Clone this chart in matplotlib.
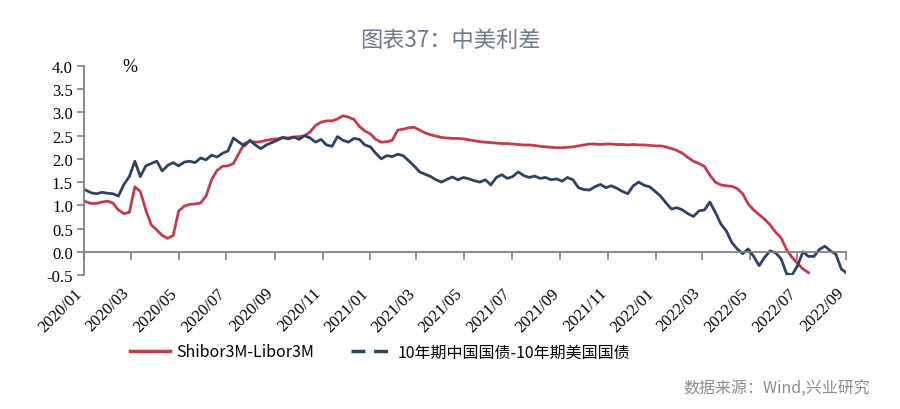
import pandas as pd
import matplotlib.pyplot as plt
import matplotlib.dates as mdates
from matplotlib.lines import Line2D

# weekly observations, first Friday of 2020 onward
dates = pd.date_range("2020-01-03", periods=140, freq="7D")

cn_us_10y = [
    1.33, 1.27, 1.25, 1.28, 1.26, 1.25, 1.20, 1.45, 1.62, 1.95,
    1.62, 1.85, 1.90, 1.95, 1.74, 1.86, 1.92, 1.85, 1.93, 1.95,
    1.92, 2.02, 1.98, 2.08, 2.04, 2.12, 2.17, 2.45, 2.36, 2.28,
    2.40, 2.30, 2.22, 2.30, 2.35, 2.40, 2.46, 2.43, 2.47, 2.42,
    2.50, 2.45, 2.36, 2.42, 2.30, 2.27, 2.48, 2.40, 2.36, 2.44,
    2.42, 2.30, 2.26, 2.12, 2.00, 2.07, 2.05, 2.10, 2.07, 1.96,
    1.85, 1.72, 1.67, 1.62, 1.55, 1.50, 1.56, 1.61, 1.55, 1.60,
    1.57, 1.53, 1.50, 1.55, 1.44, 1.60, 1.66, 1.58, 1.62, 1.72,
    1.64, 1.60, 1.63, 1.58, 1.60, 1.55, 1.57, 1.52, 1.60, 1.55,
    1.38, 1.34, 1.33, 1.40, 1.45, 1.38, 1.42, 1.37, 1.30, 1.25,
    1.42, 1.50, 1.43, 1.40, 1.30, 1.20, 1.05, 0.92, 0.95, 0.90,
    0.82, 0.76, 0.88, 0.90, 1.07, 0.85, 0.60, 0.45, 0.20, 0.06,
    -0.04, 0.06, -0.10, -0.30, -0.12, 0.02, -0.02, -0.15, -0.47, -0.50,
    -0.30, 0.00, -0.10, -0.10, 0.05, 0.12, 0.02, -0.05, -0.37, -0.46,
]

shibor_libor = [
    1.08, 1.04, 1.04, 1.07, 1.09, 1.05, 0.90, 0.82, 0.85, 1.40,
    1.30, 0.90, 0.58, 0.47, 0.35, 0.29, 0.35, 0.88, 0.98, 1.02,
    1.03, 1.05, 1.20, 1.55, 1.75, 1.84, 1.85, 1.90, 2.12, 2.33,
    2.38, 2.36, 2.37, 2.40, 2.42, 2.43, 2.46, 2.45, 2.47, 2.48,
    2.50, 2.58, 2.72, 2.79, 2.82, 2.82, 2.86, 2.93, 2.90, 2.85,
    2.70, 2.60, 2.54, 2.42, 2.36, 2.37, 2.40, 2.62, 2.64, 2.67,
    2.68, 2.62, 2.56, 2.52, 2.49, 2.46, 2.45, 2.44, 2.44, 2.43,
    2.41, 2.39, 2.37, 2.36, 2.35, 2.34, 2.33, 2.33, 2.32, 2.31,
    2.30, 2.30, 2.29, 2.27, 2.26, 2.25, 2.24, 2.24, 2.25, 2.26,
    2.28, 2.30, 2.32, 2.32, 2.31, 2.32, 2.32, 2.31, 2.31, 2.30,
    2.31, 2.30, 2.30, 2.29, 2.28, 2.28, 2.26, 2.22, 2.18, 2.12,
    2.03, 1.95, 1.90, 1.84, 1.65, 1.50, 1.44, 1.42, 1.41, 1.36,
    1.25, 1.03, 0.90, 0.80, 0.70, 0.58, 0.42, 0.30, 0.05, -0.12,
    -0.25, -0.37, -0.45,
]

tick_dates = pd.date_range("2020-01-01", "2022-09-01", freq="2MS")
tick_labels = [d.strftime("%Y/%m") for d in tick_dates]

RED = "#c23b4f"
NAVY = "#2f4262"
AXIS_GRAY = "#808080"
CJK = ["Noto Sans CJK SC", "DejaVu Sans"]
SERIF = "Liberation Serif"

fig = plt.figure(figsize=(9, 4.1), dpi=100)
ax = fig.add_axes([84 / 900, 1 - 276 / 410, (846 - 84) / 900, (276 - 67) / 410])

ax.plot(dates[:len(shibor_libor)], shibor_libor, color=RED, linewidth=2.0)
ax.plot(dates, cn_us_10y, color=NAVY, linewidth=2.0)

ax.set_xlim(pd.Timestamp("2020-01-01"), pd.Timestamp("2022-09-01"))
ax.set_ylim(-0.5, 4.0)
ax.set_yticks([-0.5, 0, 0.5, 1, 1.5, 2, 2.5, 3, 3.5, 4])
ax.set_yticklabels([f"{v:.1f}" for v in ax.get_yticks()], family=SERIF, fontsize=12)

ax.set_xticks(tick_dates)
ax.tick_params(axis="x", labelbottom=False, length=6, color=AXIS_GRAY, width=1.2)
ax.tick_params(axis="y", length=5, color=AXIS_GRAY, width=1.2, pad=3)

for side in ["top", "right"]:
    ax.spines[side].set_visible(False)
ax.spines["bottom"].set_position(("data", 0))
ax.spines["left"].set_color(AXIS_GRAY)
ax.spines["bottom"].set_color(AXIS_GRAY)
ax.spines["left"].set_linewidth(1.3)
ax.spines["bottom"].set_linewidth(1.3)

# rotated date labels sit under the plot area, not under the zero line
for d, lab in zip(tick_dates, tick_labels):
    ax.annotate(lab, xy=(mdates.date2num(d), 0), xycoords=("data", "axes fraction"),
                xytext=(-7, -7), textcoords="offset points",
                ha="right", va="top", rotation=45, rotation_mode="anchor",
                family=SERIF, fontsize=12)

ax.text(0.05, 1.0, "%", transform=ax.transAxes, family=SERIF, fontsize=13,
        ha="left", va="center")

fig.text(0.5, 1 - 40 / 410, "图表37：中美利差", ha="center", va="center",
         family=CJK, fontsize=16, color="#6c7a8c")

handles = [
    Line2D([], [], color=RED, linewidth=2.5),
    Line2D([], [], color=NAVY, linewidth=2.5, linestyle=(0, (4, 2.5))),
]
fig.legend(handles, ["Shibor3M-Libor3M", "10年期中国国债-10年期美国国债"],
           loc="center", bbox_to_anchor=(380 / 900, 1 - 353 / 410), ncol=2,
           frameon=False, prop={"family": CJK, "size": 11.5},
           handlelength=2.5, columnspacing=2.3, handletextpad=0.4)

fig.text(870 / 900, 1 - 388 / 410, "数据来源：Wind,兴业研究", ha="right", va="center",
         family=CJK, fontsize=11.5, color="#8c8c8c")

fig.savefig("out.png", dpi=100)
